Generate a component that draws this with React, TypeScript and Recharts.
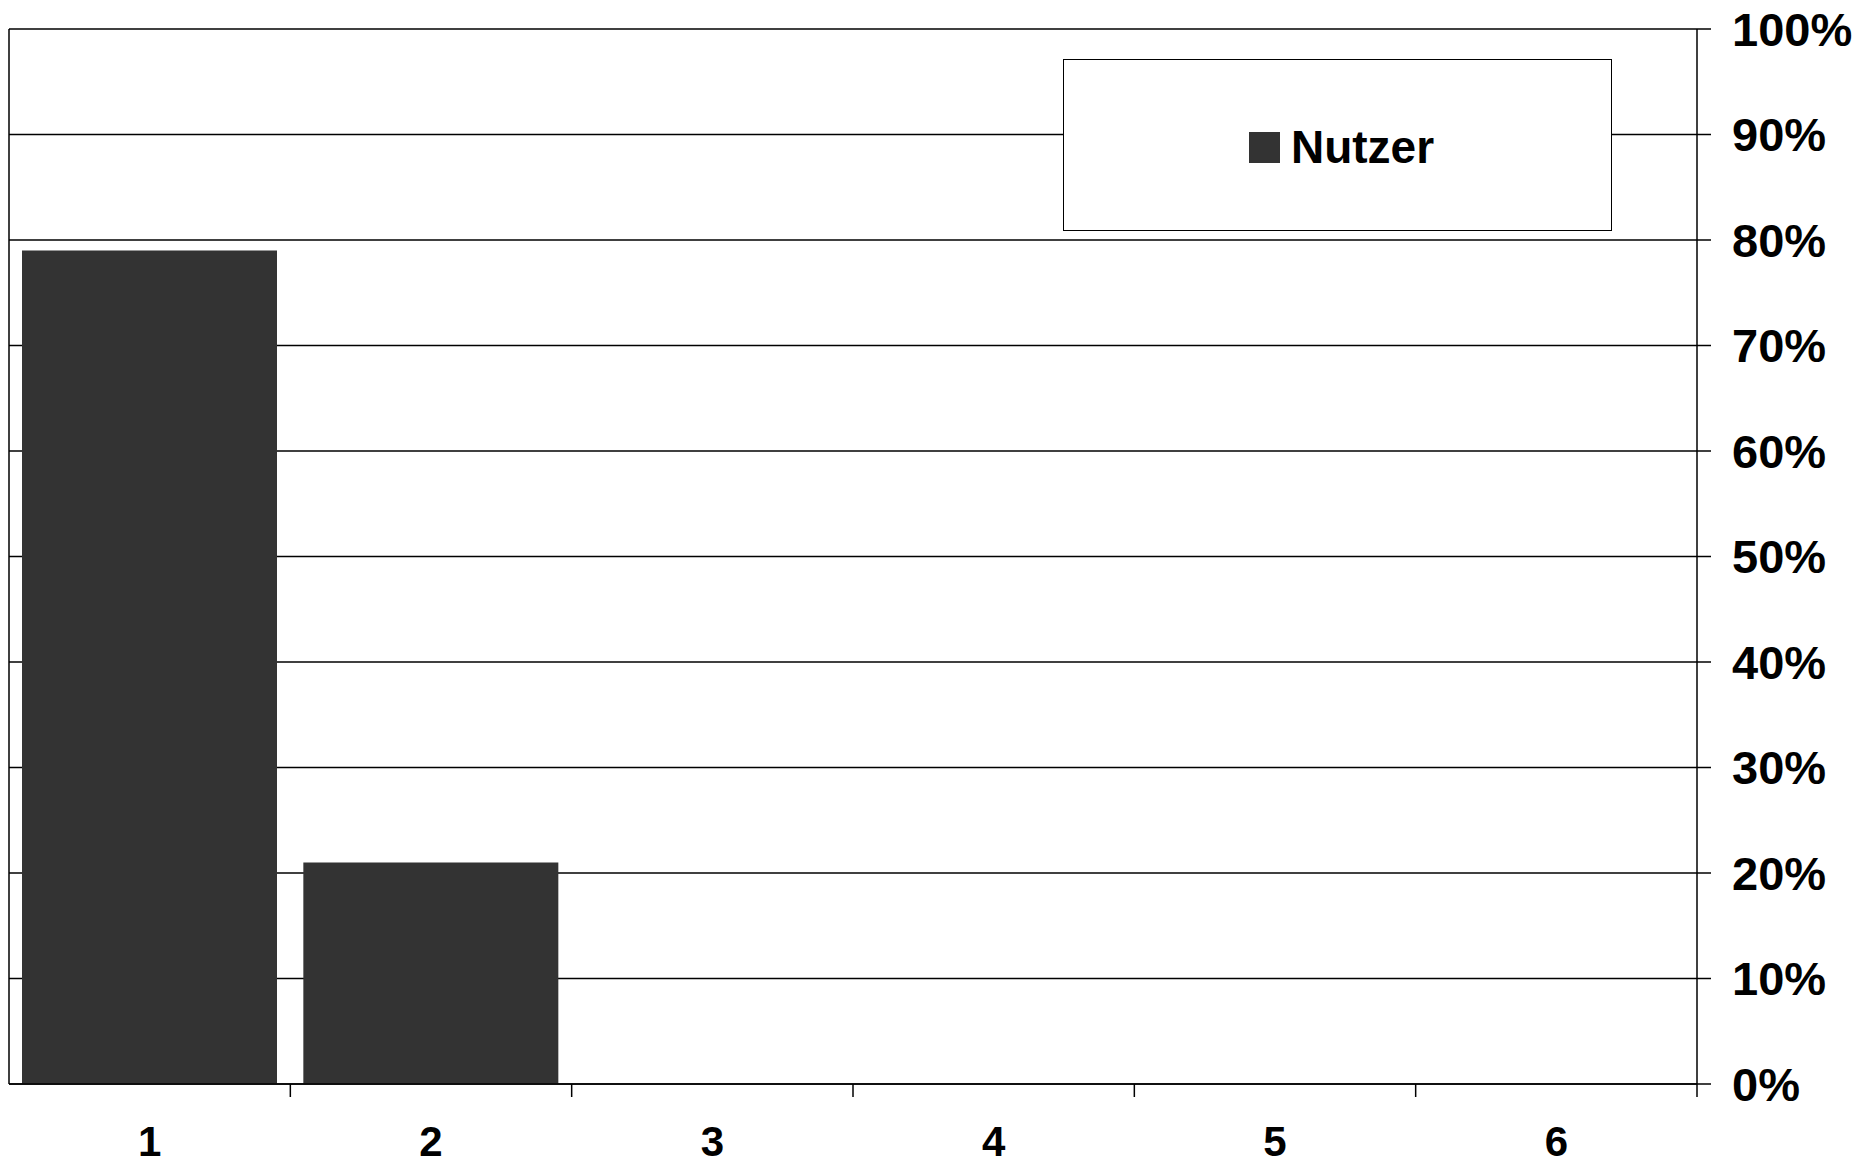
import { Bar, BarChart, CartesianGrid, Legend, XAxis, YAxis } from "recharts";

const CATEGORIES = [1, 2, 3, 4, 5, 6];
const NUTZER = [0.79, 0.21, null, null, null, null];
const Y_TICKS = [0, 0.1, 0.2, 0.3, 0.4, 0.5, 0.6, 0.7, 0.8, 0.9, 1];
const EDGE_TICKS = [0.5, 1.5, 2.5, 3.5, 4.5, 5.5, 6.5];

const BAR_COLOR = "#333333";
const FONT = "'Liberation Sans', Arial, sans-serif";

const data = CATEGORIES.map((name, i) => ({ name, nutzer: NUTZER[i] }));

function LegendBox({ payload }: any) {
  return (
    <div
      style={{
        boxSizing: "border-box",
        width: "100%",
        height: "100%",
        border: "1.5px solid #000",
        background: "#fff",
        display: "flex",
        alignItems: "center",
        justifyContent: "center",
        fontFamily: FONT,
        fontWeight: 700,
        fontSize: 46,
        color: "#000",
      }}
    >
      {(payload ?? []).map((p: any) => (
        <div key={p.value} style={{ display: "flex", alignItems: "center", marginTop: 4, marginLeft: 8 }}>
          <span style={{ display: "inline-block", width: 31, height: 31, background: p.color, marginRight: 11 }} />
          <span>{p.value}</span>
        </div>
      ))}
    </div>
  );
}

export default function App() {
  return (
    <div style={{ position: "absolute", left: 0, top: 0, width: 1860, height: 1166, background: "#fff", fontFamily: FONT }}>
      <BarChart
        width={1860}
        height={1166}
        data={data}
        margin={{ top: 29, right: 13, bottom: 11, left: 8 }}
        barCategoryGap={13}
      >
        <CartesianGrid vertical={false} stroke="#000" strokeWidth={1.5} />
        <XAxis
          xAxisId="b_cat"
          dataKey="name"
          height={70}
          axisLine={false}
          tickLine={false}
          tickSize={0}
          tickMargin={41}
          tick={{ fill: "#000", fontSize: 42, fontWeight: 700, fontFamily: FONT }}
        />
        {/* boundary ticks between categories */}
        <XAxis
          xAxisId="a_edge"
          dataKey="name"
          type="number"
          domain={[0.5, 6.5]}
          ticks={EDGE_TICKS}
          allowDataOverflow
          height={1}
          tick={<g />}
          tickSize={13}
          axisLine={{ stroke: "#000", strokeWidth: 1.5 }}
          tickLine={{ stroke: "#000", strokeWidth: 1.5 }}
        />
        <YAxis
          yAxisId="left"
          orientation="left"
          type="number"
          domain={[0, 1]}
          width={1}
          tick={false}
          tickLine={false}
          axisLine={{ stroke: "#000", strokeWidth: 1.5 }}
        />
        <YAxis
          orientation="right"
          type="number"
          domain={[0, 1]}
          ticks={Y_TICKS}
          width={150}
          tickSize={14}
          tickMargin={21}
          tickFormatter={(v: number) => `${Math.round(v * 100)}%`}
          axisLine={{ stroke: "#000", strokeWidth: 1.5 }}
          tickLine={{ stroke: "#000", strokeWidth: 1.5 }}
          tick={{ fill: "#000", fontSize: 47, fontWeight: 700, fontFamily: FONT, textAnchor: "start" }}
        />
        <Legend
          layout="horizontal"
          verticalAlign="middle"
          align="center"
          content={<LegendBox />}
          wrapperStyle={{ left: 1063, top: 59, width: 549, height: 172 }}
        />
        <Bar xAxisId="b_cat" dataKey="nutzer" name="Nutzer" fill={BAR_COLOR} legendType="square" isAnimationActive={false} />
      </BarChart>
    </div>
  );
}
